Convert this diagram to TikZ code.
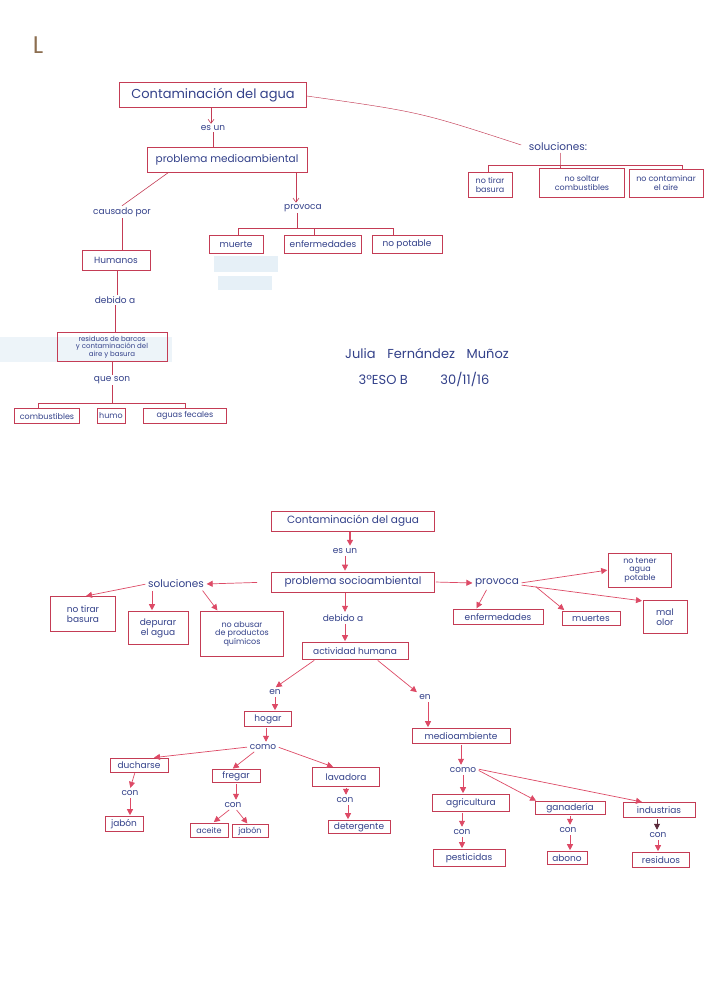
\documentclass[tikz,border=0pt]{standalone}
\usepackage{fontspec}
\setmainfont{Poppins}
\usetikzlibrary{arrows.meta}
\definecolor{boxred}{HTML}{C43C55}
\definecolor{arrred}{HTML}{DD4A66}
\definecolor{ink}{HTML}{33418A}
\definecolor{brownL}{HTML}{8C6E50}
\definecolor{smudge}{HTML}{DCEBF5}
\definecolor{darkarr}{HTML}{5A2A3A}
\newcommand\myfa{\fontsize{13}{14}\selectfont}
\newcommand\myfb{\fontsize{10.5}{11.5}\selectfont}
\newcommand\myfc{\fontsize{9}{10}\selectfont}
\newcommand\myfd{\fontsize{8}{8.6}\selectfont}
\newcommand\myfe{\fontsize{7}{7.4}\selectfont}
\begin{document}
\begin{tikzpicture}[x=1pt,y=-1pt,
  bx/.style={draw=boxred, line width=0.6pt, text=ink, inner sep=1pt, align=center, font=\myfc},
  lbl/.style={text=ink, inner sep=1.5pt, font=\myfc},
  ln/.style={draw=boxred, line width=0.6pt},
  varr/.style={draw=boxred, line width=0.6pt, -{Straight Barb[length=4pt,width=6pt]}},
  arr/.style={draw=arrred, line width=0.7pt, -{Triangle[width=6pt,length=6pt]}, shorten >=1pt, shorten <=1pt}]
\fill[white] (0,0) rectangle (705,988);
\useasboundingbox (0,0) rectangle (705,988);
% paper smudges
\fill[smudge, opacity=0.7] (214,256) rectangle (278,272);
\fill[smudge, opacity=0.7] (218,276) rectangle (272,290);
\fill[smudge, opacity=0.5] (0,337) rectangle (172,362);
% mark
\node[text=brownL, font=\fontsize{24}{24}\selectfont] (mark) at (38,45) {L};
%%%%%%%%%%%%%%%% TOP MAP
\node[bx, font=\myfa, minimum width=187, minimum height=25] (c1) at (213,95) {Contaminación del agua};
\node[lbl] (esun1) at (213,128) {es un};
\node[bx, font=\myfb, minimum width=160, minimum height=25] (p1) at (227,160) {problema medioambiental};
\node[lbl] (caus) at (122,212) {causado por};
\node[lbl] (prov1) at (303,208) {provoca};
\node[bx, minimum width=54, minimum height=18] (mu) at (236,244) {muerte};
\node[bx, minimum width=77, minimum height=18] (enf1) at (323,244) {enfermedades};
\node[bx, minimum width=70, minimum height=18] (np) at (407,244) {no potable};
\node[bx, minimum width=68, minimum height=20] (hum) at (116,260) {Humanos};
\node[lbl] (deb1) at (115,300) {debido a};
\node[bx, font=\myfe, minimum width=110, minimum height=29] (res) at (112,347) {residuos de barcos\\ y contaminación del\\ aire y basura};
\node[lbl] (que) at (112,380) {que son};
\node[bx, font=\myfd, minimum width=65, minimum height=15] (comb) at (47,416) {combustibles};
\node[bx, font=\myfd, minimum width=28, minimum height=15] (humo) at (111,416) {humo};
\node[bx, font=\myfd, minimum width=83, minimum height=15] (agf) at (185,416) {aguas fecales};
\node[lbl, font=\myfb] (sol1) at (558,147) {soluciones:};
\node[bx, font=\myfd, minimum width=44, minimum height=25] (s1) at (490,185) {no tirar\\basura};
\node[bx, font=\myfd, minimum width=85, minimum height=29] (s2) at (582,183) {no soltar\\combustibles};
\node[bx, font=\myfd, minimum width=74, minimum height=28] (s3) at (666,183) {no contaminar\\el aire};
% signature
\node[text=ink, font=\myfa] (name) at (427,353) {Julia\hspace{0.9em}Fernández\hspace{0.9em}Muñoz};
\node[text=ink, font=\myfa] (curso) at (424,379) {3ºESO B\hspace{2.5em}30/11/16};
% top connectors
\draw[varr] ([xshift=-2]c1.south) -- ([xshift=-2]esun1.north);
\draw[ln] (esun1.south) -- (esun1.south |- p1.north);
\draw[ln] ([xshift=-59]p1.south) -- (caus.north);
\draw[varr] ([xshift=69]p1.south) -- ([xshift=69]p1.south |- prov1.north);
\coordinate (pj) at (297,228);
\coordinate (pjl) at (238,228);
\coordinate (pjm) at (314,228);
\coordinate (pjr) at (393,228);
\draw[ln] ([xshift=-6]prov1.south) -- (pj);
\draw[ln] (pjl |- mu.north) -- (pjl) -- (pjr) -- (pjr |- np.north);
\draw[ln] (pjm) -- (pjm |- enf1.north);
\draw[ln] (caus.south) -- (caus.south |- hum.north);
\draw[ln] ([xshift=1]hum.south) -- ([xshift=1]hum.south |- deb1.north);
\draw[ln] (deb1.south) -- (deb1.south |- res.north);
\draw[ln] (res.south) -- (que.north);
\coordinate (qj) at (112,403);
\coordinate (qjl) at (38,403);
\coordinate (qjr) at (185,403);
\draw[ln] (que.south) -- (qj);
\draw[ln] (qjl |- comb.north) -- (qjl) -- (qjr) -- (qjr |- agf.north);
\draw[ln, line width=0.45pt] ([yshift=-1]c1.east) .. controls (420,112) .. ([xshift=-6,yshift=2]sol1.west);
\coordinate (sj) at (560,165);
\coordinate (sjl) at (488,165);
\coordinate (sjr) at (682,165);
\draw[ln] ([xshift=2]sol1.south) -- (sj) -- (sj |- s2.north);
\draw[ln] (sjl |- s1.north) -- (sjl) -- (sjr) -- (sjr |- s3.north);
%%%%%%%%%%%%%%%% BOTTOM MAP
\node[bx, font=\myfb, minimum width=163, minimum height=20] (c2) at (353,521) {Contaminación del agua};
\node[lbl] (esun2) at (345,551) {es un};
\node[bx, font=\myfb, minimum width=163, minimum height=20] (p2) at (353,582) {problema socioambiental};
\node[lbl, font=\myfb] (prov2) at (497,583) {provoca};
\node[bx, font=\myfd, minimum width=63, minimum height=34] (nt) at (640,570) {no tener\\agua\\potable};
\node[bx, minimum width=90, minimum height=15] (enf2) at (498,617) {enfermedades};
\node[bx, minimum width=58, minimum height=14] (mue) at (591,618) {muertes};
\node[bx, minimum width=44, minimum height=33] (mo) at (665,617) {mal\\olor};
\node[lbl, font=\myfb] (sol2) at (176,584) {soluciones};
\node[bx, minimum width=65, minimum height=35] (t1) at (83,614) {no tirar\\basura};
\node[bx, minimum width=60, minimum height=33] (dep) at (158,628) {depurar\\el agua};
\node[bx, font=\myfd, minimum width=83, minimum height=45] (ab) at (242,634) {no abusar\\de productos\\químicos};
\node[lbl] (deb2) at (343,618) {debido a};
\node[bx, minimum width=106, minimum height=17] (act) at (355,651) {actividad humana};
\node[lbl] (en1) at (275,692) {en};
\node[bx, minimum width=47, minimum height=15] (hog) at (268,719) {hogar};
\node[lbl] (en2) at (425,697) {en};
\node[bx, minimum width=98, minimum height=15] (med) at (461,736) {medioambiente};
\node[lbl] (como1) at (263,747) {como};
\node[bx, minimum width=58, minimum height=14] (duc) at (139,765) {ducharse};
\node[bx, minimum width=48, minimum height=13] (fre) at (236,776) {fregar};
\node[bx, minimum width=67, minimum height=19] (lav) at (346,777) {lavadora};
\node[lbl] (con1) at (130,793) {con};
\node[bx, minimum width=38, minimum height=15] (jab1) at (124,824) {jabón};
\node[lbl] (con2) at (233,805) {con};
\node[bx, font=\myfd, minimum width=38, minimum height=14] (ace) at (209,830) {aceite};
\node[bx, font=\myfd, minimum width=36, minimum height=13] (jab2) at (250,831) {jabón};
\node[lbl] (con3) at (345,800) {con};
\node[bx, minimum width=62, minimum height=13] (det) at (359,827) {detergente};
\node[lbl] (como2) at (463,770) {como};
\node[bx, minimum width=77, minimum height=17] (agr) at (471,803) {agricultura};
\node[bx, minimum width=70, minimum height=13] (gan) at (570,808) {ganadería};
\node[bx, minimum width=72, minimum height=15] (ind) at (659,810) {industrias};
\node[lbl] (con4) at (462,832) {con};
\node[bx, minimum width=72, minimum height=17] (pes) at (469,858) {pesticidas};
\node[lbl] (con5) at (568,830) {con};
\node[bx, minimum width=40, minimum height=13] (abo) at (567,858) {abono};
\node[lbl] (con6) at (658,835) {con};
\node[bx, minimum width=57, minimum height=15] (resid) at (661,860) {residuos};
% bottom connectors
\draw[arr, line width=1.6pt] ([xshift=-3]c2.south) -- ([xshift=-3]c2.south |- esun2.north);
\draw[arr] (esun2.south) -- (esun2.south |- p2.north);
\draw[arr] (p2.east) -- (prov2.west);
\draw[arr] (prov2.east) -- (nt.west);
\draw[arr] ([xshift=-10]prov2.south) -- ([xshift=-22]enf2.north);
\draw[arr] ([xshift=38,yshift=3]prov2.south) -- ([xshift=-26]mue.north);
\draw[arr] ([yshift=-2]prov2.east) -- ([xshift=-22,yshift=16]mo.center);
\draw[arr, shorten <=14pt] (p2.west) -- (sol2.east);
\draw[arr] (sol2.west) -- ([xshift=2]t1.north);
\draw[arr] ([xshift=-24]sol2.south) -- ([xshift=-6]dep.north);
\draw[arr] ([xshift=26]sol2.south) -- ([xshift=-24]ab.north);
\draw[arr] ([xshift=-8]p2.south) -- ([xshift=-8]p2.south |- deb2.north);
\draw[arr] ([xshift=2]deb2.south) -- ([xshift=2]deb2.south |- act.north);
\draw[arr] ([xshift=-40]act.south) -- (en1.north);
\draw[arr] (en1.south) -- (en1.south |- hog.north);
\draw[arr] ([xshift=22]act.south) -- (en2.north west);
\draw[arr] ([xshift=3]en2.south) -- ([xshift=3]en2.south |- med.north);
\draw[arr] ([xshift=-2]hog.south) -- ([xshift=-2]hog.south |- como1.north);
\draw[arr] (como1.west) -- ([xshift=14]duc.north);
\draw[arr] ([xshift=-8]como1.south) -- ([xshift=-4]fre.north);
\draw[arr] (como1.east) -- ([xshift=-12]lav.north);
\draw[arr] ([xshift=-4]duc.south) -- (con1.north);
\draw[arr] (con1.south) -- (con1.south |- jab1.north);
\draw[arr] (fre.south) -- (fre.south |- con2.north);
\draw[arr] ([xshift=-3]con2.south) -- ([xshift=4]ace.north);
\draw[arr] ([xshift=3]con2.south) -- ([xshift=-2]jab2.north);
\draw[arr] (lav.south) -- (lav.south |- con3.north);
\draw[arr] ([xshift=3]con3.south) -- ([xshift=3]con3.south |- det.north);
\draw[arr] (med.south) -- (med.south |- como2.north);
\draw[arr] (como2.south) -- (como2.south |- agr.north);
\draw[arr] (como2.east) -- ([xshift=-33]gan.north);
\draw[arr] ([yshift=1]como2.east) -- ([xshift=-16]ind.north);
\draw[arr] ([xshift=-9]agr.south) -- (con4.north);
\draw[arr] (con4.south) -- (con4.south |- pes.north);
\draw[arr] (gan.south) -- (gan.south |- con5.north);
\draw[arr] ([xshift=2]con5.south) -- ([xshift=2]con5.south |- abo.north);
\draw[arr, draw=darkarr] ([xshift=-2]ind.south) -- ([xshift=-2]ind.south |- con6.north);
\draw[arr] (con6.south) -- (con6.south |- resid.north);
\end{tikzpicture}
\end{document}
